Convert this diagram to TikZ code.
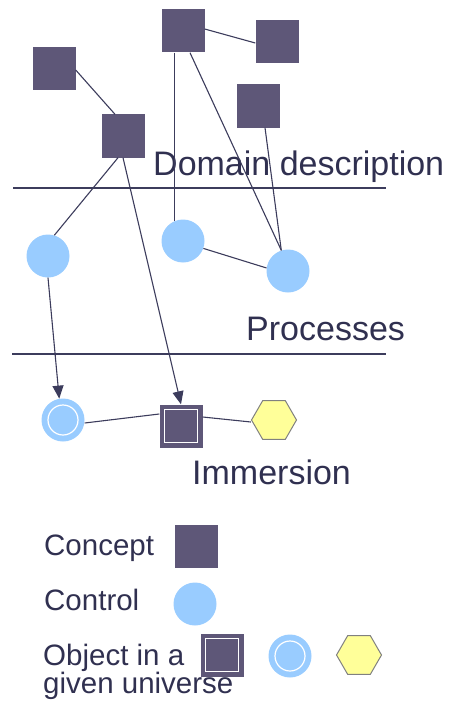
\documentclass[tikz,border=0pt]{standalone}
\usepackage{fontspec}
\setmainfont{Liberation Sans}
\usetikzlibrary{arrows.meta, positioning, shapes.geometric}

\definecolor{conceptfill}{RGB}{94,87,120}
\definecolor{controlfill}{RGB}{153,204,255}
\definecolor{objectfill}{RGB}{255,255,153}
\definecolor{linecol}{RGB}{60,60,92}
\definecolor{textcol}{RGB}{48,48,80}

\begin{document}
\begin{tikzpicture}[
    x=1pt, y=-1pt,
    % Concept: dark square
    concept/.style={
        rectangle, % Square shape
        fill=conceptfill, % Dark fill
        minimum size=43pt, % Side
        inner sep=0pt
      },
    % Control: light blue disc
    control/.style={
        circle,
        fill=controlfill,
        minimum size=43pt,
        inner sep=0pt
      },
    % Objects in a universe: inner white outline
    object square/.style={
        concept,
        path picture={\draw[white, line width=1.4pt]
          ([shift={(5pt,-5pt)}]path picture bounding box.north west) rectangle
          ([shift={(-5pt,5pt)}]path picture bounding box.south east);}
      },
    object circle/.style={
        control,
        path picture={\draw[white, line width=1.2pt]
          (path picture bounding box.center) circle (15pt);}
      },
    object hexagon/.style={
        regular polygon, regular polygon sides=6,
        fill=objectfill, draw=gray, line width=1pt,
        minimum size=45pt, inner sep=0pt
      },
    % Section titles and legend text
    title/.style={text=textcol, anchor=base west, font=\fontsize{34}{40}\selectfont, inner sep=0pt},
    legend/.style={text=textcol, anchor=base west, font=\fontsize{29.5}{28}\selectfont, inner sep=0pt, align=left},
    % Connectors
    link/.style={draw=linecol, line width=1.1pt},
    >={Triangle[length=13pt, width=11pt]}
  ]
  \useasboundingbox (0,0) rectangle (451,706);

  % Domain description: concepts
  \node[concept] (A) at (54,69) {};
  \node[concept] (B) at (123,136) {};
  \node[concept] (C) at (183,31) {};
  \node[concept] (D) at (277,42) {};
  \node[concept] (E) at (258,106) {};

  % Processes: controls
  \node[control] (c1) at (48,256) {};
  \node[control] (c2) at (183,241) {};
  \node[control] (c3) at (288,271) {};

  % Immersion: objects
  \node[object circle] (ocirc) at (63,420) {};
  \node[object square] (osq) at (181,426) {};
  \node[object hexagon] (ohex) at (274,420) {};

  % Titles and separating lines
  \node[title] (tdomain) at (153,175) {Domain description};
  \node[title] (tproc) at (246,340) {Processes};
  \node[title] (timm) at (192,484) {Immersion};
  \coordinate (l1a) at (13,188);
  \coordinate (l1b) at (386,188);
  \coordinate (l2a) at (12,354);
  \coordinate (l2b) at (386,354);
  \draw[link] (l1a) -- (l1b);
  \draw[link] (l2a) -- (l2b);

  % Links between concepts
  \draw[link] ([yshift=-1pt]A.east) -- ([xshift=-8pt]B.north);
  \draw[link] ([yshift=2pt]C.east) -- ([yshift=-1pt]D.west);

  % Links from concepts to controls
  \draw[link] (c2.112 |- C.south) -- (c2.112);
  \draw[link] ([xshift=7pt]C.south) -- (c3.108);
  \draw[link] ([xshift=7pt]E.south) -- (c3.108);
  \draw[link] ([xshift=-5pt]B.south) -- (c1.73);
  \draw[link] (c2.-20) -- (c3.172);

  % Immersion arrows
  \draw[link, ->] (c1.south) -- (ocirc.100);
  \draw[link, ->] (B.south) -- (osq.north);

  % Links between objects
  \draw[link] ([yshift=-3pt]ocirc.east) -- ([yshift=12pt]osq.west);
  \draw[link] ([yshift=9pt]osq.east) -- ([yshift=-2pt]ohex.west);

  % Legend
  \node[legend] (lconcept) at (44,555) {Concept};
  \node[concept] (kconcept) at (196,546) {};
  \node[legend] (lcontrol) at (44,610) {Control};
  \node[control] (kcontrol) at (195,604) {};
  \node[legend] (lobject) at (43,665) {Object in a};
  \node[legend] (luniverse) at (43,693) {given universe};
  \node[object square] (ksq) at (222,655) {};
  \node[object circle] (kcirc) at (290,656) {};
  \node[object hexagon] (khex) at (359,655) {};

\end{tikzpicture}
\end{document}
